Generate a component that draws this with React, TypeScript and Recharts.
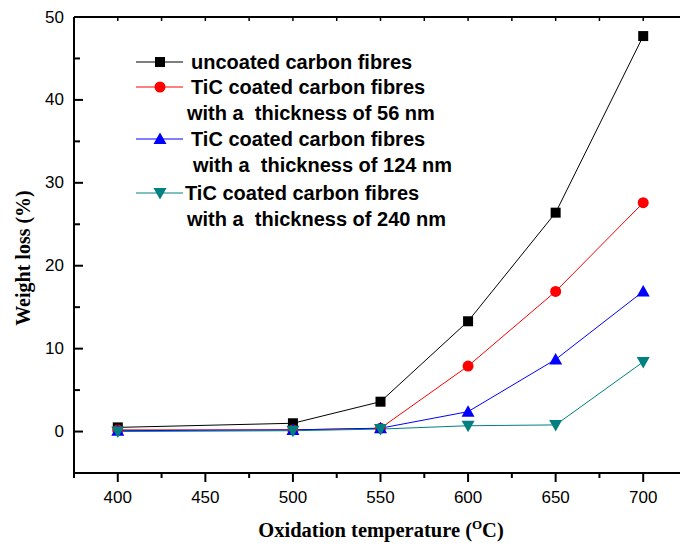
import React from 'react';
import { LineChart, Line, XAxis, YAxis, Label } from 'recharts';

// oxidation temperatures (°C)
const temps = [400, 500, 550, 600, 650, 700];
// weight loss (%)
const uncoated = [0.5, 1.0, 3.6, 13.3, 26.4, 47.7];
const tic56 = [0.2, 0.2, 0.4, 7.9, 16.9, 27.6];
const tic124 = [0.1, 0.2, 0.4, 2.4, 8.7, 16.9];
const tic240 = [0.0, 0.1, 0.3, 0.7, 0.8, 8.4];

const xTicks = [375, 400, 425, 450, 475, 500, 525, 550, 575, 600, 625, 650, 675, 700, 725];
const yTicks = [-5, 0, 5, 10, 15, 20, 25, 30, 35, 40, 45, 50];

const data = temps.map((t, i) => ({
  t,
  uncoated: uncoated[i],
  tic56: tic56[i],
  tic124: tic124[i],
  tic240: tic240[i],
}));

const AXIS_X = 74;
const AXIS_Y = 473;
const TOP_Y = 17;

const numFont = '"Liberation Sans", Arial, sans-serif';
const titleFont = '"Liberation Serif", "Times New Roman", serif';

const Square = ({ cx, cy }: any) =>
  cx == null ? null : <rect x={cx - 5} y={cy - 5} width={10} height={10} fill="#000" />;
const Circle = ({ cx, cy }: any) =>
  cx == null ? null : <circle cx={cx} cy={cy} r={5.5} fill="#ff0000" />;
const TriUp = ({ cx, cy }: any) =>
  cx == null ? null : (
    <polygon points={`${cx},${cy - 6.5} ${cx + 6.5},${cy + 5} ${cx - 6.5},${cy + 5}`} fill="#0000ff" />
  );
const TriDown = ({ cx, cy }: any) =>
  cx == null ? null : (
    <polygon points={`${cx},${cy + 6.5} ${cx + 6.5},${cy - 5} ${cx - 6.5},${cy - 5}`} fill="#008080" />
  );

const BottomTick = ({ x, payload }: any) => {
  const v = payload.value;
  const major = v % 50 === 0;
  const labelled = major && v >= 400 && v <= 700;
  return (
    <g>
      <line x1={x} x2={x} y1={AXIS_Y} y2={AXIS_Y + (major ? 9 : 5)} stroke="#000" strokeWidth={2} />
      {labelled && (
        <text x={x} y={AXIS_Y + 24} textAnchor="middle" dominantBaseline="central" fontSize={17} fontFamily={numFont} fill="#000">
          {v}
        </text>
      )}
    </g>
  );
};

const TopTick = ({ x }: any) => (
  <line x1={x} x2={x} y1={TOP_Y} y2={TOP_Y + 4} stroke="#000" strokeWidth={1.5} />
);

const LeftTick = ({ y, payload }: any) => {
  const v = payload.value;
  const major = v % 10 === 0;
  return (
    <g>
      <line x1={AXIS_X} x2={AXIS_X + (major ? 9 : 6)} y1={y} y2={y} stroke="#000" strokeWidth={2} />
      {major && v >= 0 && (
        <text x={AXIS_X - 10} y={y} textAnchor="end" dominantBaseline="central" fontSize={17} fontFamily={numFont} fill="#000">
          {v}
        </text>
      )}
    </g>
  );
};

const XTitle = () => (
  <text x={381} y={537} textAnchor="middle" fontSize={20.5} fontWeight="bold" fontFamily={titleFont} fill="#000">
    Oxidation temperature (
    <tspan dy={-8} fontSize={13}>O</tspan>
    <tspan dy={8}>C)</tspan>
  </text>
);

const YTitle = () => (
  <text
    x={0}
    y={0}
    transform="translate(30,258) rotate(-90)"
    textAnchor="middle"
    fontSize={20}
    fontWeight="bold"
    fontFamily={titleFont}
    fill="#000"
  >
    Weight loss (%)
  </text>
);

const legendRows = [
  { color: '#000', marker: 'square', lines: [['uncoated carbon fibres', 191]], y: 62 },
  { color: '#ff0000', marker: 'circle', lines: [['TiC coated carbon fibres', 191], ['with a  thickness of 56 nm', 187]], y: 87 },
  { color: '#0000ff', marker: 'up', lines: [['TiC coated carbon fibres', 191], ['with a  thickness of 124 nm', 193]], y: 139 },
  { color: '#008080', marker: 'down', lines: [['TiC coated carbon fibres', 185], ['with a  thickness of 240 nm', 187]], y: 193 },
];

const Legend = () => (
  <svg width={680} height={549} style={{ position: 'absolute', left: 0, top: 0, pointerEvents: 'none' }}>
    {legendRows.map((r, i) => {
      const y = r.y;
      const cx = 160;
      let m: React.ReactNode = null;
      if (r.marker === 'square') m = <Square cx={cx} cy={y} />;
      if (r.marker === 'circle') m = <Circle cx={cx} cy={y} />;
      if (r.marker === 'up') m = <TriUp cx={cx} cy={y} />;
      if (r.marker === 'down') m = <TriDown cx={cx} cy={y} />;
      return (
        <g key={i}>
          <line x1={136} x2={183} y1={y} y2={y} stroke={r.color} strokeWidth={1} />
          {m}
          {r.lines.map(([txt, lx], j) => (
            <text
              key={j}
              x={lx as number}
              y={y + j * 26}
              dominantBaseline="central"
              fontSize={20}
              fontWeight="bold"
              fontFamily={numFont}
              fill="#000"
              style={{ whiteSpace: 'pre' }}
            >
              {txt}
            </text>
          ))}
        </g>
      );
    })}
  </svg>
);

export default function App() {
  return (
    <div style={{ position: 'absolute', left: 0, top: 0, width: 680, height: 549, overflow: 'hidden', background: '#fff' }}>
      <LineChart width={700} height={549} data={data} margin={{ top: 16, right: 13, left: 0, bottom: 0 }}>
        <XAxis
          dataKey="t"
          type="number"
          domain={[375, 725]}
          ticks={xTicks}
          interval={0}
          height={76}
          tickSize={0}
          tickMargin={0}
          tick={<BottomTick />}
          axisLine={{ stroke: '#000', strokeWidth: 2 }}
          tickLine={false}
        >
          <Label content={<XTitle />} />
        </XAxis>
        <XAxis
          xAxisId="top"
          orientation="top"
          dataKey="t"
          type="number"
          domain={[375, 725]}
          ticks={xTicks}
          interval={0}
          height={1}
          tickSize={0}
          tick={<TopTick />}
          axisLine={{ stroke: '#000', strokeWidth: 2 }}
          tickLine={false}
        />
        <YAxis
          type="number"
          domain={[-5, 50]}
          ticks={yTicks}
          interval={0}
          width={74}
          tickSize={0}
          tickMargin={0}
          tick={<LeftTick />}
          axisLine={{ stroke: '#000', strokeWidth: 2 }}
          tickLine={false}
        >
          <Label content={<YTitle />} />
        </YAxis>
        <Line dataKey="uncoated" stroke="#000" strokeWidth={1} dot={<Square />} isAnimationActive={false} />
        <Line dataKey="tic56" stroke="#ff0000" strokeWidth={1} dot={<Circle />} isAnimationActive={false} />
        <Line dataKey="tic124" stroke="#0000ff" strokeWidth={1} dot={<TriUp />} isAnimationActive={false} />
        <Line dataKey="tic240" stroke="#008080" strokeWidth={1} dot={<TriDown />} isAnimationActive={false} />
      </LineChart>
      <Legend />
    </div>
  );
}
